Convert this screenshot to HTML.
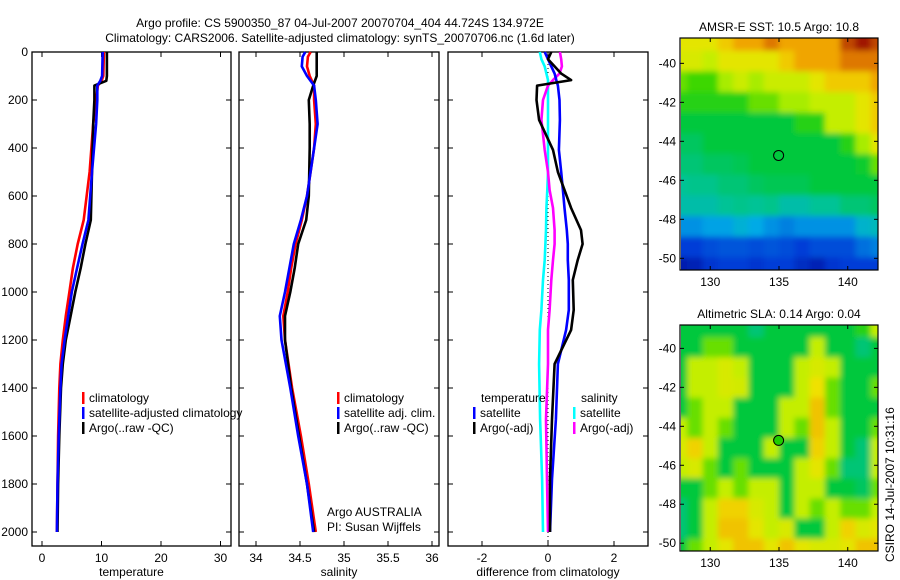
<!DOCTYPE html>
<html><head><meta charset="utf-8">
<style>
html,body{margin:0;padding:0;background:#fff;}
svg{display:block;font-family:"Liberation Sans",sans-serif;}
text{font-size:12px;fill:#000;}
</style></head>
<body>
<svg id="fig" width="900" height="580" viewBox="0 0 900 580">
<defs>
<filter id="blur" x="-5%" y="-5%" width="110%" height="110%"><feGaussianBlur stdDeviation="3"/></filter>
<clipPath id="clipSst"><rect x="681" y="38" width="197" height="232"/></clipPath>
<clipPath id="clipSla"><rect x="681" y="325" width="197" height="226"/></clipPath>
</defs>
<text x="340" y="27" text-anchor="middle">Argo profile: CS 5900350_87 04-Jul-2007 20070704_404 44.724S 134.972E</text>
<text x="340" y="42" text-anchor="middle">Climatology: CARS2006. Satellite-adjusted climatology: synTS_20070706.nc (1.6d later)</text>
<g id="plots"></g>
<text transform="translate(894,562) rotate(-90)">CSIRO 14-Jul-2007 10:31:16</text>
</svg>
<script>
// ---- data ----
const depthT = [0,100,120,140,200,300,500,700,800,900,1000,1100,1200,1300,1400,1600,1800,2000];
const tempArgo = [10.9,10.9,10.8,8.8,8.8,8.6,8.4,8.2,7.3,6.5,5.6,4.8,4.0,3.5,3.2,2.9,2.7,2.6];
const tempClim = [10.4,10.3,10.0,9.4,9.1,8.6,8.0,7.0,6.0,5.2,4.6,4.0,3.5,3.1,2.9,2.7,2.6,2.5];
const tempSat  = [10.2,10.1,9.8,9.3,9.3,9.1,8.4,7.8,6.8,5.9,5.0,4.4,3.8,3.3,3.1,2.8,2.6,2.5];
const depthS = [0,20,60,100,140,200,300,400,600,700,800,900,1000,1100,1200,1400,1600,1800,2000];
const salArgo = [34.69,34.69,34.69,34.69,34.65,34.60,34.61,34.61,34.60,34.57,34.48,34.44,34.39,34.33,34.33,34.40,34.49,34.58,34.66];
const salClim = [34.62,34.59,34.58,34.61,34.66,34.66,34.68,34.66,34.58,34.52,34.45,34.40,34.36,34.31,34.33,34.41,34.51,34.60,34.68];
const salSat  = [34.56,34.53,34.52,34.58,34.66,34.68,34.70,34.66,34.58,34.51,34.43,34.38,34.33,34.27,34.29,34.39,34.48,34.58,34.65];
const depthD = [0,30,60,90,117,140,200,283,408,500,575,650,742,800,867,950,1075,1158,1300,1530,1780,2000];
const diffTArgo = [0.1,0.0,0.2,0.4,0.7,-0.33,-0.35,-0.27,0.15,0.3,0.5,0.7,1.0,1.05,0.9,0.75,0.78,0.7,0.2,0.12,0.06,0.06];
const diffTSat  = [-0.1,0.0,0.1,0.2,0.25,0.3,0.35,0.36,0.33,0.4,0.45,0.5,0.57,0.6,0.6,0.63,0.63,0.55,0.3,0.24,0.12,0.06];
const diffSArgo = [0.36,0.4,0.42,0.35,0.15,0.0,-0.15,-0.2,-0.1,0.0,0.05,0.15,0.2,0.2,0.15,0.1,0.05,0.0,0.0,-0.06,-0.03,0.0];
const diffSSat  = [-0.25,-0.2,-0.1,-0.05,0.0,0.0,0.0,0.0,0.0,0.0,-0.02,-0.05,-0.06,-0.08,-0.1,-0.15,-0.2,-0.25,-0.27,-0.24,-0.18,-0.15];
const tempTicks = [0,10,20,30];
const salTicks = [34,34.5,35,35.5,36];
const diffTicks = [-2,0,2];
const depthTicks = [0,200,400,600,800,1000,1200,1400,1600,1800,2000];
const sstGrid = [
[7,7,7,7.5,8,8,8.5,8,8,8,8,9,9.5,9],
[6.8,6.8,6.5,7,7,7,7,7.5,8,8,8,8.5,8.5,8.5],
[6,5.8,5.8,6.3,6.6,6.3,6.6,6.6,6.6,7,7.5,7.5,7.5,8],
[5.5,5.5,5.5,5.5,5.5,6,6,6.3,6.3,6.5,6.5,6.5,7,7.5],
[5,5,5,5,5,5,5,5,5.5,5.5,6.5,6.5,7,7.5],
[4.7,4.7,5,5,5,5,5,5,5,5,5,5.5,6.3,7],
[4.5,4.5,4.7,4.7,4.8,5,5,5,5,5,5,5,5.2,6],
[4.2,4.3,4.3,4.5,4.5,4.7,4.8,4.8,4.8,5,5,5,5,5],
[4,4,4,4.2,4.3,4.2,4.3,4,4,4.2,4.2,4.5,4.5,4.7],
[3,3,3.2,3.2,3.5,3.3,3,2.8,3,3,3,3,3.6,3.8],
[2,2,2.2,2.3,2.3,2.2,2.3,2.2,2,2.2,2.2,2.2,2.6,2.8],
[1,1.2,1.8,2,2,1.8,2,2,1.5,1.2,1.8,2,2,2]];
const slaGrid = [
[5,5,5,5,5,4.5,5,5,5,5,5,5,5.5,6.5],
[5,5,6,6,5,5,5,5,5,6.5,5,5,4.5,5],
[5,6.5,6.5,6.8,6.5,5,5,5,6.5,6.8,6.5,5,5,5],
[5,6.5,6.5,6.8,6.7,5,5,5,6.5,7.2,6,5,5,6],
[5,6,6.5,6.5,5,5,5,6.5,6.5,7.6,6,5,5,5],
[6.5,6,6.5,6,5,5,5,6.5,6,7.6,6.5,5,5,6],
[6.8,7.4,6.5,5,5,5,6.5,5,5,7.4,6.5,5,4.5,6.5],
[6.5,6.8,6,5,6,5,5,5,6.5,7,6,4.5,4.5,6.5],
[5,5,6,6.5,6,6.5,6.5,5,6.5,6.5,5,5,4.7,6],
[4.5,5,6.5,7.4,7.4,6.8,6.5,5,6.5,6,6.5,6,6,6.5],
[4.5,5,6.5,7.6,7.6,7,6.5,6.8,5,5,6.5,7.4,6.8,7],
[5,6,6.5,7,7.6,7.6,7,7.6,7,6.8,6.8,7,7.6,7.6]];
const latTicks = [-40,-42,-44,-46,-48,-50];
const lonTicks = [130,135,140];
const argoPos = [134.972,-44.724];

const NS = 'http://www.w3.org/2000/svg';
const root = document.getElementById('plots');
function mk(tag, attrs, parent){const e=document.createElementNS(NS,tag);for(const k in attrs)e.setAttribute(k,attrs[k]);(parent||root).appendChild(e);return e;}

const Y0=52, Y1=546;
const yD = d => 52 + d*0.24;

function panel(name, x0, x1, xScale, ticks, fmt, xlabel, showYLabels){
  const g = mk('g',{});
  
  
  mk('rect',{x:x0,y:Y0,width:x1-x0,height:Y1-Y0,fill:'none',stroke:'#000','stroke-width':1.3},g);
  ticks.forEach(t=>{
    const x=xScale(t);
    mk('line',{x1:x,x2:x,y1:Y1,y2:Y1-5,stroke:'#000'},g);
    mk('line',{x1:x,x2:x,y1:Y0,y2:Y0+5,stroke:'#000'},g);
    const tx=mk('text',{x:x,y:Y1+16,'text-anchor':'middle'},g);
    
    
    tx.textContent=fmt(t);
  });
  depthTicks.forEach(d=>{
    const y=yD(d);
    mk('line',{x1:x0,x2:x0+5,y1:y,y2:y,stroke:'#000'},g);
    mk('line',{x1:x1,x2:x1-5,y1:y,y2:y,stroke:'#000'},g);
    if(showYLabels){
      const tx=mk('text',{x:x0-4,y:y+4,'text-anchor':'end'},g);
      
      
      tx.textContent=d;
    }
  });
  const xl=mk('text',{x:(x0+x1)/2,y:Y1+30,'text-anchor':'middle'},g);
  
  
  xl.textContent=xlabel;
  return g;
}
function line(g, depths, vals, xScale, color, name){
  let pts=[];
  for(let i=0;i<depths.length;i++){pts.push(xScale(vals[i]).toFixed(1)+','+yD(depths[i]).toFixed(1));}
  const p=mk('polyline',{points:pts.join(' '),fill:'none',stroke:color,'stroke-width':2.6,'stroke-linejoin':'round'},g);
  
  
}
function legend(g, x, y, color, label){
  mk('rect',{x:x,y:y-10,width:2.5,height:12,fill:color},g);
  const t=mk('text',{x:x+7,y:y},g);
  
  
  t.textContent=label;
}

// temperature panel
const xT = v => 42 + v*5.95;
const gT = panel('temperature-panel',32,231,xT,tempTicks,String,'temperature',true);
line(gT,depthT,tempClim,xT,'#f00','climatology-temp-line');
line(gT,depthT,tempArgo,xT,'#000','argo-temp-line');
line(gT,depthT,tempSat,xT,'#00f','satellite-temp-line');
legend(gT,82,402,'#f00','climatology');
legend(gT,82,417,'#00f','satellite-adjusted climatology');
legend(gT,82,432,'#000','Argo(..raw -QC)');

// salinity panel
const xS = v => 256 + (v-34)*88;
const gS = panel('salinity-panel',239,439,xS,salTicks,String,'salinity',false);
line(gS,depthS,salClim,xS,'#f00','climatology-sal-line');
line(gS,depthS,salArgo,xS,'#000','argo-sal-line');
line(gS,depthS,salSat,xS,'#00f','satellite-sal-line');
legend(gS,337,402,'#f00','climatology');
legend(gS,337,417,'#00f','satellite adj. clim.');
legend(gS,337,432,'#000','Argo(..raw -QC)');
const a1=mk('text',{x:327,y:516},gS);a1.textContent='Argo AUSTRALIA';
const a2=mk('text',{x:327,y:531},gS);a2.textContent='PI: Susan Wijffels';

// difference panel
const xDf = v => 548 + v*33;
const gD = panel('difference-panel',448,648,xDf,diffTicks,String,'difference from climatology',false);
mk('line',{x1:xDf(0),x2:xDf(0),y1:yD(0),y2:yD(2050),stroke:'#000','stroke-dasharray':'1,3'},gD);
line(gD,depthD,diffSSat,xDf,'#0ff','salinity-satellite-diff');
line(gD,depthD,diffSArgo,xDf,'#f0f','salinity-argo-diff');
line(gD,depthD,diffTSat,xDf,'#00f','temperature-satellite-diff');
line(gD,depthD,diffTArgo,xDf,'#000','temperature-argo-diff');
const lh1=mk('text',{x:481,y:402},gD);lh1.textContent='temperature';
const lh2=mk('text',{x:581,y:402},gD);lh2.textContent='salinity';
legend(gD,473,417,'#00f','satellite');
legend(gD,473,432,'#000','Argo(-adj)');
legend(gD,573,417,'#0ff','satellite');
legend(gD,573,432,'#f0f','Argo(-adj)');

// maps
const cmapStops = [[0,[0,0,130]],[0.2,[0,60,215]],[0.33,[0,170,230]],[0.42,[0,195,150]],[0.5,[0,200,60]],[0.58,[60,215,0]],[0.64,[190,240,0]],[0.72,[240,225,0]],[0.82,[240,150,0]],[0.95,[160,20,0]],[1,[130,0,0]]];
function cmap(v){
  v=Math.max(0,Math.min(1,v));
  for(let i=1;i<cmapStops.length;i++){
    if(v<=cmapStops[i][0]){
      const a=cmapStops[i-1], b=cmapStops[i], f=(v-a[0])/(b[0]-a[0]);
      const c=[0,1,2].map(k=>Math.round(a[1][k]+(b[1][k]-a[1][k])*f));
      return 'rgb('+c.join(',')+')';
    }
  }
  return 'rgb(130,0,0)';
}
function map(name, grid, x0,y0,w,h, latTop, latBot, title, clip, markerFill){
  const g=mk('g',{});
  
  
  const lonMin=127.8, lonMax=142.2;
  const xL = lon => x0 + (lon-lonMin)/(lonMax-lonMin)*w;
  const yL = lat => y0 + (latTop-lat)/(latTop-latBot)*h;
  const gc=mk('g',{'clip-path':'url(#'+clip+')'},g);
  const gi=mk('g',{filter:'url(#blur)'},gc);
  const rows=grid.length, cols=grid[0].length;
  const cw=(w+16)/cols, ch=(h+16)/rows;
  for(let r=0;r<rows;r++)for(let c=0;c<cols;c++){
    const cell=mk('rect',{x:x0-8+c*cw,y:y0-8+r*ch,width:cw+0.6,height:ch+0.6,fill:cmap(grid[r][c]/10)},gi);
    
    
  }
  mk('rect',{x:x0,y:y0,width:w,height:h,fill:'none',stroke:'#000','stroke-width':1.2},g);
  lonTicks.forEach(l=>{const x=xL(l);
    mk('line',{x1:x,x2:x,y1:y0+h,y2:y0+h-4,stroke:'#000'},g);
    mk('line',{x1:x,x2:x,y1:y0,y2:y0+4,stroke:'#000'},g);
    const t=mk('text',{x:x,y:y0+h+16,'text-anchor':'middle'},g);
    
    
    t.textContent=l;});
  latTicks.forEach(l=>{const y=yL(l);
    mk('line',{x1:x0,x2:x0+4,y1:y,y2:y,stroke:'#000'},g);
    mk('line',{x1:x0+w,x2:x0+w-4,y1:y,y2:y,stroke:'#000'},g);
    const t=mk('text',{x:x0-4,y:y+4,'text-anchor':'end'},g);
    
    
    t.textContent=l;});
  const c=mk('circle',{cx:xL(argoPos[0]),cy:yL(argoPos[1]),r:5,fill:markerFill,stroke:'#000','stroke-width':1},g);
  
  
  const t=mk('text',{x:x0+w/2,y:y0-7,'text-anchor':'middle'},g);
  
  
  t.textContent=title;
}
map('sst-map',sstGrid,680,38,198,232,-38.7,-50.6,'AMSR-E SST: 10.5 Argo: 10.8','clipSst','none');
map('sla-map',slaGrid,680,325,198,226,-38.8,-50.4,'Altimetric SLA: 0.14 Argo: 0.04','clipSla','rgb(30,205,0)');
</script>
</body></html>
